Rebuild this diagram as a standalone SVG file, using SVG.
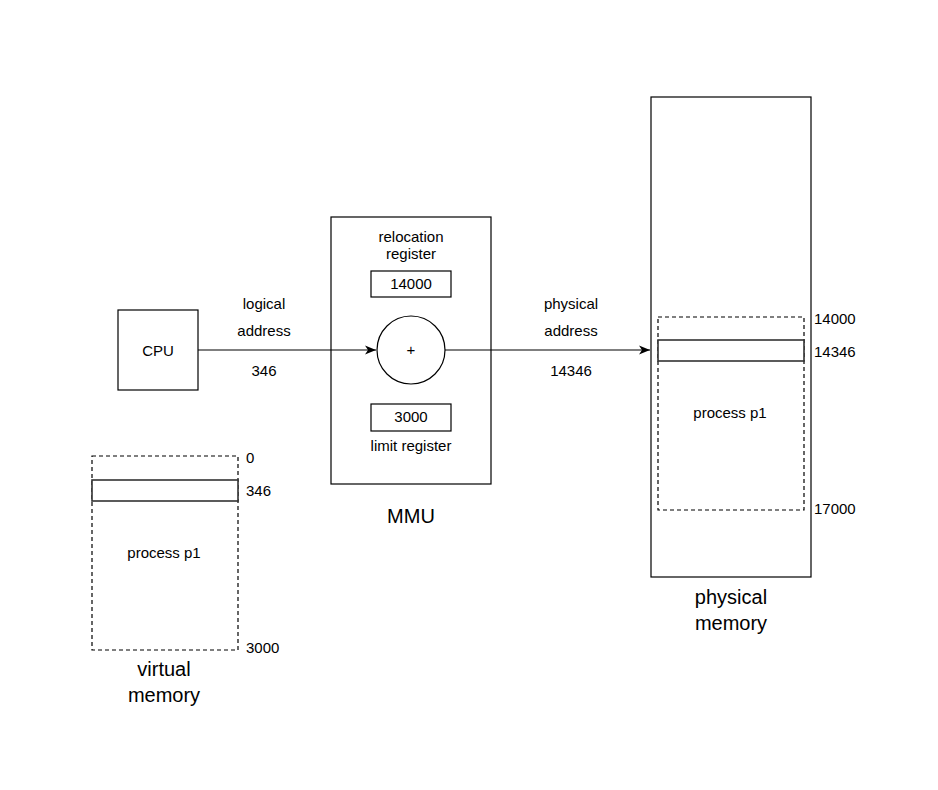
<svg xmlns="http://www.w3.org/2000/svg" width="938" height="790" viewBox="0 0 938 790">
<defs>
<style>
text{font-family:"Liberation Sans",Arial,Helvetica,sans-serif;fill:#000;}
.s{font-size:15px;}
.p{font-size:15px;}
.l{font-size:20px;}
.box{fill:#fff;stroke:#000;stroke-width:1.2;}
.dash{fill:none;stroke:#000;stroke-width:1.2;stroke-dasharray:4 3;}
.row{fill:#fff;stroke:#333;stroke-width:1.6;}
.edge{fill:none;stroke:#000;stroke-width:1.2;}
</style>
<marker id="arr" markerWidth="12" markerHeight="10" refX="11" refY="5" orient="auto" markerUnits="userSpaceOnUse">
<path d="M0,0.5 L11,5 L0,9.5 L3,5 Z" fill="#000"/>
</marker>
</defs>
<rect width="938" height="790" fill="#fff"/>

<g id="physical-memory">
<rect class="box" x="651" y="97" width="160" height="480"/>
<text class="l" x="731" y="604" text-anchor="middle">physical</text>
<text class="l" x="731" y="630" text-anchor="middle">memory</text>
</g>

<g id="physical-process">
<rect class="dash" x="658" y="317" width="146" height="193"/>
<rect class="row" x="658" y="340" width="146" height="21"/>
<text class="p" x="730" y="418" text-anchor="middle">process p1</text>
<text class="s" x="814" y="324">14000</text>
<text class="s" x="814" y="357">14346</text>
<text class="s" x="814" y="514">17000</text>
</g>

<g id="cpu">
<rect class="box" x="118" y="310" width="80" height="80"/>
<text class="s" x="158" y="356" text-anchor="middle">CPU</text>
</g>

<g id="mmu">
<rect class="box" x="331" y="217" width="160" height="267"/>
<text class="s" x="411" y="242" text-anchor="middle">relocation</text>
<text class="s" x="411" y="259" text-anchor="middle">register</text>
<text class="l" x="411" y="523" text-anchor="middle">MMU</text>
</g>

<g id="relocation-register">
<rect class="box" x="371" y="271" width="80" height="26"/>
<text class="s" x="411" y="289" text-anchor="middle">14000</text>
</g>

<g id="adder">
<circle class="box" cx="411" cy="350" r="34"/>
<text class="s" x="411" y="355" text-anchor="middle">+</text>
</g>

<g id="limit-register">
<rect class="box" x="371" y="404" width="80" height="27"/>
<text class="s" x="411" y="422" text-anchor="middle">3000</text>
<text class="s" x="411" y="451" text-anchor="middle">limit register</text>
</g>

<g id="virtual-memory">
<rect class="dash" x="92" y="456" width="146" height="194"/>
<rect class="row" x="92" y="480" width="146" height="21"/>
<text class="p" x="164" y="558" text-anchor="middle">process p1</text>
<text class="s" x="246" y="463">0</text>
<text class="s" x="246" y="496">346</text>
<text class="s" x="246" y="653">3000</text>
<text class="l" x="164" y="676" text-anchor="middle">virtual</text>
<text class="l" x="164" y="702" text-anchor="middle">memory</text>
</g>

<g id="connectors">
<line class="edge" x1="198" y1="350" x2="376" y2="350" marker-end="url(#arr)"/>
<text class="s" x="264" y="309" text-anchor="middle">logical</text>
<text class="s" x="264" y="336" text-anchor="middle">address</text>
<text class="s" x="264" y="376" text-anchor="middle">346</text>
<line class="edge" x1="445" y1="350" x2="650" y2="350" marker-end="url(#arr)"/>
<text class="s" x="571" y="309" text-anchor="middle">physical</text>
<text class="s" x="571" y="336" text-anchor="middle">address</text>
<text class="s" x="571" y="376" text-anchor="middle">14346</text>
</g>
</svg>
